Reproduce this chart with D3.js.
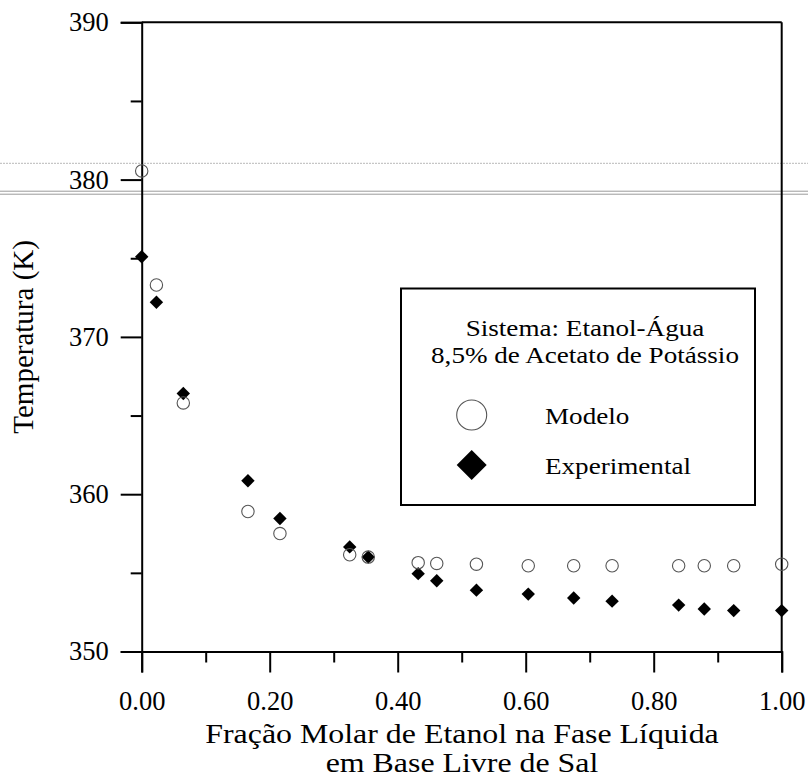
<!DOCTYPE html>
<html>
<head>
<meta charset="utf-8">
<script src="https://cdn.jsdelivr.net/npm/d3@7"></script>
<style>
  html, body { margin: 0; padding: 0; background: #fff; }
  svg { display: block; font-family: "Liberation Serif", "Times New Roman", serif; }
</style>
</head>
<body>
<svg id="chart" width="808" height="778"></svg>
<script>
// Ethanol mole fraction (salt-free basis), liquid phase
const xEtanol = [0, 0.023, 0.065, 0.166, 0.216, 0.325, 0.354, 0.432, 0.461, 0.523,
                 0.604, 0.675, 0.735, 0.839, 0.879, 0.925, 1.0];
// Experimental bubble temperatures (K)
const tExperimental = [375.1, 372.2, 366.4, 360.85, 358.45, 356.65, 356.0, 354.95, 354.5, 353.9,
                       353.65, 353.4, 353.2, 352.95, 352.7, 352.6, 352.6];
// Model temperatures (K)
const tModelo = [380.55, 373.3, 365.8, 358.9, 357.5, 356.15, 356.0, 355.65, 355.6, 355.55,
                 355.45, 355.45, 355.45, 355.45, 355.45, 355.45, 355.55];

const yTicks = [350, 360, 370, 380, 390];
const yMinorTicks = [355, 365, 375, 385];
const xTicks = [0, 0.2, 0.4, 0.6, 0.8, 1.0];
const xMinorTicks = [0.1, 0.3, 0.5, 0.7, 0.9];
const legendTitle = ["Sistema: Etanol-Água", "8,5% de Acetato de Potássio"];
const seriesNames = ["Modelo", "Experimental"];
const xTitle = ["Fração Molar de Etanol na Fase Líquida", "em Base Livre de Sal"];
const yTitle = "Temperatura (K)";

const svg = d3.select("#chart");

const x = d3.scaleLinear().domain([0, 1]).range([141.7, 781.7]);
const y = d3.scaleLinear().domain([350, 390]).range([651.5, 22.3]);

// faint horizontal rules running across the page
const rules = svg.append("g");
rules.append("line").attr("x1", 0).attr("x2", 808).attr("y1", 163.3).attr("y2", 163.3)
  .attr("stroke", "#b8b8b8").attr("stroke-width", 1).attr("stroke-dasharray", "2,1");
rules.append("line").attr("x1", 0).attr("x2", 808).attr("y1", 191.2).attr("y2", 191.2)
  .attr("stroke", "#9a9a9a").attr("stroke-width", 1);
rules.append("line").attr("x1", 0).attr("x2", 808).attr("y1", 194.2).attr("y2", 194.2)
  .attr("stroke", "#9a9a9a").attr("stroke-width", 1);

// frame: top and right borders
const frame = svg.append("g").attr("stroke", "#000").attr("stroke-width", 2).attr("fill", "none");
frame.append("line").attr("x1", x(0)).attr("x2", x(1)).attr("y1", y(390)).attr("y2", y(390));
frame.append("line").attr("x1", x(1)).attr("x2", x(1)).attr("y1", y(390)).attr("y2", y(350));

// left axis
svg.append("g").attr("transform", `translate(${x(0)},0)`)
  .call(d3.axisLeft(y).tickValues(yTicks).tickSize(21).tickPadding(12).tickFormat(d3.format("d")));
svg.append("g").attr("transform", `translate(${x(0)},0)`)
  .call(d3.axisLeft(y).tickValues(yMinorTicks).tickSize(11).tickFormat(""))
  .select(".domain").remove();

// bottom axis
svg.append("g").attr("transform", `translate(0,${y(350)})`)
  .call(d3.axisBottom(x).tickValues(xTicks).tickSize(21).tickPadding(19).tickFormat(d3.format(".2f")));
svg.append("g").attr("transform", `translate(0,${y(350)})`)
  .call(d3.axisBottom(x).tickValues(xMinorTicks).tickSize(11).tickFormat(""))
  .select(".domain").remove();

svg.selectAll(".domain").attr("stroke", "#000").attr("stroke-width", 2);
svg.selectAll(".tick line").attr("stroke", "#000").attr("stroke-width", 2);
svg.selectAll(".tick text").attr("fill", "#000").attr("font-size", 26.5)
  .attr("font-family", "Liberation Serif, serif");

// axis titles
svg.append("text")
  .attr("transform", `translate(33,${(y(350) + y(390)) / 2}) rotate(-90)`)
  .attr("text-anchor", "middle").attr("font-size", 29).attr("fill", "#000")
  .text(yTitle);
svg.append("g").selectAll("text").data(xTitle).join("text")
  .attr("transform", (d, i) => `translate(462,${743 + i * 29}) scale(1.16,1)`)
  .attr("text-anchor", "middle").attr("font-size", 27.5).attr("fill", "#000")
  .text(d => d);

// data markers
const idx = d3.range(xEtanol.length);
const diamond = d3.symbol().type(d3.symbolSquare).size(90);
svg.append("g").selectAll("path").data(idx).join("path")
  .attr("d", diamond)
  .attr("transform", i => `translate(${x(xEtanol[i])},${y(tExperimental[i])}) rotate(45)`)
  .attr("fill", "#000");
svg.append("g").selectAll("circle").data(idx).join("circle")
  .attr("cx", i => x(xEtanol[i])).attr("cy", i => y(tModelo[i])).attr("r", 6.2)
  .attr("fill", "none").attr("stroke", "#555").attr("stroke-width", 1.1);

// legend
const lg = svg.append("g");
lg.append("rect").attr("x", 401).attr("y", 288.5).attr("width", 354).attr("height", 216.5)
  .attr("fill", "#fff").attr("stroke", "#000").attr("stroke-width", 2);
lg.selectAll("text.title").data(legendTitle).join("text").attr("class", "title")
  .attr("transform", (d, i) => `translate(585,${336 + i * 27}) scale(1.13,1)`)
  .attr("text-anchor", "middle")
  .attr("font-size", 24).attr("fill", "#000").text(d => d);
lg.append("circle").attr("cx", 471.7).attr("cy", 415).attr("r", 15)
  .attr("fill", "none").attr("stroke", "#555").attr("stroke-width", 1.1);
lg.append("path").attr("d", d3.symbol().type(d3.symbolSquare).size(450))
  .attr("transform", "translate(471.7,465) rotate(45)").attr("fill", "#000");
lg.selectAll("text.name").data(seriesNames).join("text").attr("class", "name")
  .attr("transform", (d, i) => `translate(545,${424 + i * 50}) scale(1.13,1)`)
  .attr("font-size", 24).attr("fill", "#000").text(d => d);
</script>
</body>
</html>
